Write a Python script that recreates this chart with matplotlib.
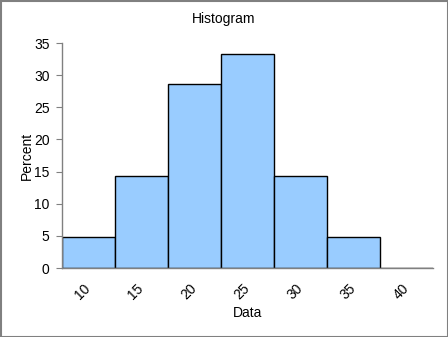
import matplotlib
matplotlib.use("Agg")
import matplotlib.pyplot as plt
from matplotlib.patches import Rectangle

categories = ["10", "15", "20", "25", "30", "35", "40"]
percent = [4.76, 14.29, 28.57, 33.33, 14.29, 4.76, 0.0]
yticks = [0, 5, 10, 15, 20, 25, 30, 35]

plt.rcParams['font.family'] = ['Liberation Sans', 'DejaVu Sans']
W, H = 448, 337
fig = plt.figure(figsize=(W/100, H/100), dpi=100)
ax = fig.add_axes([62/W, 1-268/H, (433-62)/W, (268-43)/H])

x = list(range(len(categories)))
ax.bar(x, percent, width=1.0, color='#99CCFF', edgecolor='black', linewidth=1.0)
ax.set_xlim(-0.5, len(categories)-0.5)
ax.set_ylim(0, 35)
ax.set_yticks(yticks)
ax.set_yticklabels([str(v) for v in yticks], fontsize=10)
ax.set_xticks(x)
ax.set_xticklabels(categories, fontsize=10, rotation=45, ha='right', va='center',
                   rotation_mode='anchor')
ax.tick_params(axis='x', length=0, pad=13)
ax.tick_params(axis='y', length=4, color='#808080', pad=5, direction='out')
for s in ['top', 'right']:
    ax.spines[s].set_visible(False)
for s in ['left', 'bottom']:
    ax.spines[s].set_color('#808080')
    ax.spines[s].set_linewidth(1.0)
ax.set_xlabel('Data', fontsize=10, va='center')
ax.xaxis.set_label_coords(0.5, (268-313)/225)
ax.set_ylabel('Percent', fontsize=10, va='center')
ax.yaxis.set_label_coords((27-62)/371, 0.5)
fig.text(0.5, 1-19/H, 'Histogram', ha='center', va='center', fontsize=10)
fig.patches.append(Rectangle((0.5/W, 0.5/H), 1-1/W, 1-1/H, transform=fig.transFigure,
                             fill=False, edgecolor='#808080', linewidth=1.5))
fig.savefig('out.png', dpi=100)
